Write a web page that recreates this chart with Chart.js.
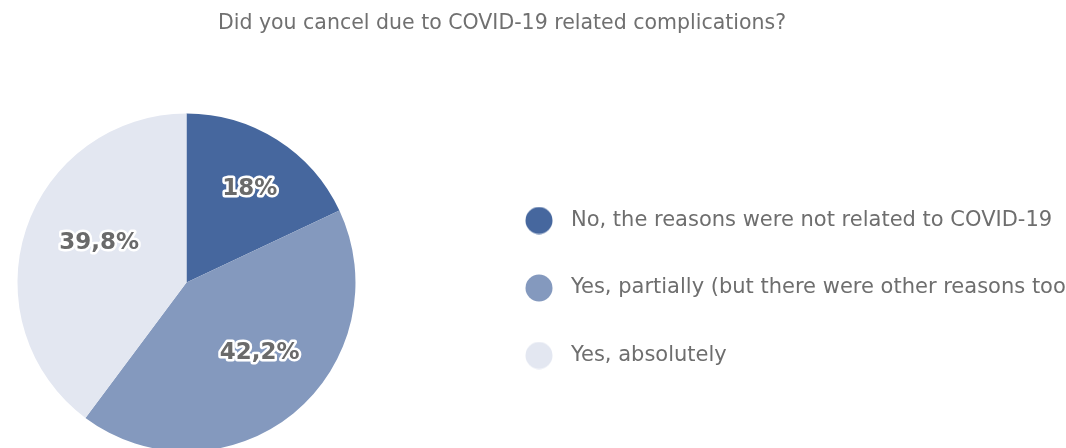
<!DOCTYPE html>
<html>
<head>
<meta charset="utf-8">
<script src="https://cdn.jsdelivr.net/npm/chart.js@4.4.0/dist/chart.umd.min.js"></script>
<style>
  html, body { margin: 0; padding: 0; background: #fff; overflow: hidden; }
  #wrap { position: relative; width: 1066px; height: 448px; overflow: hidden; }
  #title {
    position: absolute; left: 0; top: 10px; width: 1004px; z-index: 1;
    text-align: center; color: #707070;
    font: 20.5px 'DejaVu Sans', sans-serif; line-height: 24px;
  }
  canvas { position: absolute; left: -98px; top: 0; }
</style>
</head>
<body>
<div id="wrap">
  <div id="title">Did you cancel due to COVID-19 related complications?</div>
  <canvas id="chartCancel" width="1200" height="448"></canvas>
</div>
<script>
const categories = [
  'No, the reasons were not related to COVID-19',
  'Yes, partially (but there were other reasons too)',
  'Yes, absolutely',
]
const shares = [18, 42.2, 39.8]
const shareLabels = ['18%', '42,2%', '39,8%']
const sliceColors = ['#46679e', '#8499be', '#e3e7f1']

const FONT = "'DejaVu Sans', sans-serif"
const LEGEND_SIZE = 21
const LEGEND_PAD = 46.5
const MARK_W = 43

// round legend marker, drawn once per colour
function dotImage(color) {
  const c = document.createElement('canvas')
  c.width = 28
  c.height = 28
  const g = c.getContext('2d')
  g.fillStyle = color
  g.beginPath()
  g.arc(14, 14, 13.5, 0, Math.PI * 2)
  g.fill()
  return c
}

// legend box gets exactly the width its longest label needs
const measure = document.createElement('canvas').getContext('2d')
measure.font = `${LEGEND_SIZE}px ${FONT}`
const longest = Math.max(...categories.map((t) => measure.measureText(t).width))
const legendWidth = Math.ceil(LEGEND_PAD + MARK_W + LEGEND_SIZE / 2 + longest + 10)
const canvasEl = document.getElementById('chartCancel')
canvasEl.width = 568 + legendWidth

const sliceLabels = {
  id: 'sliceLabels',
  afterDatasetsDraw(chart) {
    const ctx = chart.ctx
    const meta = chart.getDatasetMeta(0)
    ctx.save()
    ctx.font = `bold 23px ${FONT}`
    ctx.textAlign = 'center'
    ctx.textBaseline = 'middle'
    ctx.lineJoin = 'round'
    ctx.lineWidth = 5
    ctx.strokeStyle = '#fff'
    ctx.fillStyle = '#6a6a6a'
    meta.data.forEach((arc, i) => {
      const { x, y, startAngle, endAngle, outerRadius } = arc.getProps(['x', 'y', 'startAngle', 'endAngle', 'outerRadius'], true)
      const mid = (startAngle + endAngle) / 2
      const r = outerRadius * 0.6
      const tx = x + Math.cos(mid) * r + 9
      const ty = y + Math.sin(mid) * r - 8
      ctx.strokeText(shareLabels[i], tx, ty)
      ctx.fillText(shareLabels[i], tx, ty)
    })
    ctx.restore()
  },
}

const chartCancel = new Chart(canvasEl.getContext('2d'), {
  type: 'pie',
  data: {
    labels: categories,
    datasets: [
      {
        data: shares,
        backgroundColor: sliceColors,
        borderWidth: 0,
        clip: false,
      },
    ],
  },
  options: {
    responsive: false,
    animation: false,
    radius: 169,
    layout: { padding: { left: 0, right: 0, top: 152.5, bottom: 35.5 } },
    plugins: {
      tooltip: { enabled: false },
      legend: {
        position: 'right',
        align: 'end',
        maxWidth: legendWidth,
        labels: {
          usePointStyle: true,
          pointStyleWidth: MARK_W,
          boxHeight: 19,
          padding: LEGEND_PAD,
          color: '#6e6e6e',
          font: { family: FONT, size: LEGEND_SIZE },
          generateLabels(chart) {
            const items = Chart.overrides.doughnut.plugins.legend.labels.generateLabels(chart)
            return items.map((item, i) => ({ ...item, pointStyle: dotImage(sliceColors[i]), lineWidth: 0 }))
          },
        },
      },
    },
  },
  plugins: [sliceLabels],
})
</script>
</body>
</html>
